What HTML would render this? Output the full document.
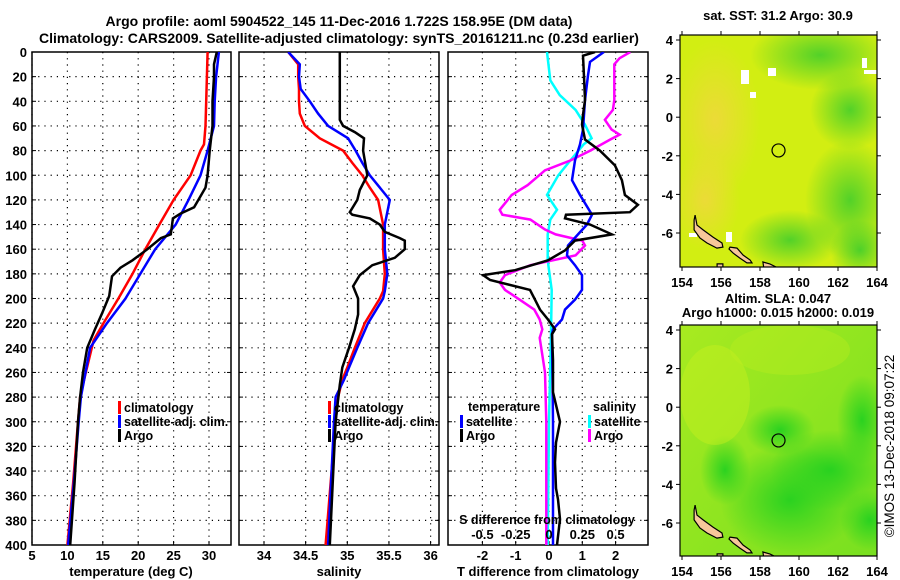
<!DOCTYPE html>
<html><head><meta charset="utf-8">
<style>
html,body{margin:0;padding:0;background:#fff;}
svg{display:block;font-family:"Liberation Sans",Arial,sans-serif;font-weight:bold;}
</style></head>
<body>
<svg id="chart" width="900" height="580" viewBox="0 0 900 580" xmlns="http://www.w3.org/2000/svg">
<defs>
<clipPath id="c1"><rect x="32" y="52" width="199" height="493"/></clipPath>
<clipPath id="c2"><rect x="239" y="52" width="200" height="493"/></clipPath>
<clipPath id="c3"><rect x="448" y="52" width="200" height="493"/></clipPath>
<clipPath id="m1"><rect x="680" y="35" width="197" height="232"/></clipPath>
<clipPath id="m2"><rect x="680" y="325" width="197" height="231"/></clipPath>
<linearGradient id="sstg" x1="0" y1="1" x2="1" y2="0">
<stop offset="0" stop-color="#e8e830"/><stop offset="0.45" stop-color="#d4ee10"/><stop offset="0.75" stop-color="#80dc20"/><stop offset="1" stop-color="#30cc30"/></linearGradient>
<radialGradient id="sstb" cx="0.5" cy="0.5" r="0.5"><stop offset="0" stop-color="#28c830" stop-opacity="0.75"/><stop offset="1" stop-color="#28c830" stop-opacity="0"/></radialGradient>
<radialGradient id="ssto" cx="0.5" cy="0.5" r="0.5"><stop offset="0" stop-color="#f2d640" stop-opacity="0.8"/><stop offset="1" stop-color="#f2d640" stop-opacity="0"/></radialGradient>
<linearGradient id="slag" x1="0" y1="0" x2="1" y2="1"><stop offset="0" stop-color="#a8ea20"/><stop offset="1" stop-color="#78e020"/></linearGradient>
<radialGradient id="slab" cx="0.5" cy="0.5" r="0.5"><stop offset="0" stop-color="#20d020" stop-opacity="0.9"/><stop offset="1" stop-color="#20d020" stop-opacity="0"/></radialGradient>
</defs>
<g id="layer"></g>
</svg>
<script>
// ---- data (depth in m) ----
const tArgoDepth=[0,10,20,40,60,80,100,110,117,126,131,135,148,151,160,169,175,182,198,212,225,240,260,280,300,350,400];
const tArgo=[31.1,30.7,30.7,30.5,30.5,30.1,29.8,29.5,28.8,27.9,26.0,24.9,24.6,23.2,21.3,19.2,17.5,16.3,15.9,14.9,13.9,12.8,12.2,11.8,11.5,11.0,10.4];
const tClimDepth=[0,20,40,60,75,80,100,120,140,160,180,200,220,234,260,280,300,350,400];
const tClim=[29.8,29.7,29.6,29.5,29.3,28.8,27.4,25.0,23.0,21.0,19.2,17.2,15.1,13.7,12.6,11.8,11.5,10.8,10.0];
const tSatDepth=[0,20,40,60,80,100,120,140,160,180,200,220,240,280,300,350,400];
const tSat=[31.4,31.0,30.8,30.7,29.8,28.8,27.1,25.3,22.4,20.3,18.2,15.6,13.2,11.9,11.6,10.9,10.1];
const sClimDepth=[0,10,20,30,40,50,60,70,80,90,100,110,120,140,160,180,194,200,220,240,256,266,280,300,400];
const sClim=[34.29,34.41,34.41,34.42,34.42,34.43,34.49,34.67,34.95,35.06,35.18,35.27,35.37,35.43,35.43,35.45,35.43,35.39,35.21,35.09,35.00,34.94,34.89,34.86,34.74];
const sSat=[34.29,34.43,34.42,34.44,34.55,34.65,34.77,35.01,35.10,35.18,35.27,35.39,35.51,35.45,35.45,35.48,35.45,35.43,35.25,35.12,35.02,34.96,34.86,34.84,34.77];
const sArgoDepth=[0,55,60,65,70,80,100,112,120,130,132,135,140,146,151,153,160,167,173,181,190,200,213,225,240,256,270,300,400];
const sArgo=[34.91,34.91,34.95,35.09,35.20,35.19,35.24,35.15,35.12,35.03,35.06,35.27,35.39,35.45,35.63,35.69,35.69,35.57,35.30,35.15,35.07,35.13,35.13,35.09,35.02,34.94,34.91,34.86,34.79];
const dTArgoDepth=[0,3,20,39,51,59,71,80,92,104,116,124,130,132,135,140,148,153,161,169,177,181,185,193,201,209,217,225,229,250,276,300,317,333,354,363,379,400];
const dTArgo=[1.38,1.02,1.05,1.08,1.02,0.99,1.08,1.53,1.98,2.19,2.28,2.67,2.43,0.51,0.48,1.23,1.89,0.78,0.48,-0.03,-1.02,-1.98,-1.77,-0.57,-0.42,-0.27,-0.03,0.18,0.09,0.12,0.12,0.33,0.21,0.18,0.21,0.27,0.33,0.24];
const dTSatDepth=[0,8,19,39,63,75,88,104,116,132,140,148,157,165,173,181,193,201,209,217,225,229,300,400];
const dTSat=[1.65,1.23,1.17,1.08,1.02,0.93,0.78,0.69,0.93,1.29,1.14,0.87,0.57,0.54,0.78,0.99,0.99,0.78,0.48,0.39,0.12,0.09,0.12,0.12];
const dSSatDepth=[0,23,35,47,59,70,75,88,100,116,128,136,148,169,193,229,300,400];
const dSSat=[-0.015,0.01,0.08,0.2,0.27,0.32,0.26,0.16,0.07,-0.015,0.06,0.01,-0.01,-0.01,0.02,0.015,0,-0.01];
const dSArgoDepth=[0,5,10,39,47,55,63,67,71,80,88,96,108,116,128,132,136,144,148,153,157,165,173,181,187,193,201,209,217,225,232,260,300,400];
const dSArgo=[0.61,0.53,0.49,0.49,0.48,0.42,0.47,0.53,0.46,0.31,0.16,-0.03,-0.16,-0.28,-0.37,-0.35,-0.14,-0.03,0.05,0.25,0.27,0.2,-0.14,-0.33,-0.37,-0.33,-0.22,-0.11,-0.07,-0.05,-0.07,-0.03,-0.02,-0.02];
const depthTicks=[0,20,40,60,80,100,120,140,160,180,200,220,240,260,280,300,320,340,360,380,400];
const tTicks=[5,10,15,20,25,30];
const sTicks=[34,34.5,35,35.5,36];
const dTTicks=[-2,-1,0,1,2];
const dSTicks=[-0.5,-0.25,0,0.25,0.5];
const lonTicks=[154,156,158,160,162,164];
const latTicks=[4,2,0,-2,-4,-6];
const argoLon=158.95, argoLat=-1.722;

// ---- axes ----
const Y=d=>52+d*1.2325;
const XT=v=>32+(v-5)*7.08;
const XS=v=>264+(v-34)*83.3;
const XdT=v=>549+v*33.3;
const XdS=v=>549+v*133.2;
const MX=lon=>682+(lon-154)*19.5;
const MY1=lat=>40+(4-lat)*19.3;
const MY2=lat=>330+(4-lat)*19.3;

const NS='http://www.w3.org/2000/svg';
const L=document.getElementById('layer');
function mk(tag,attrs,parent){const e=document.createElementNS(NS,tag);for(const k in attrs)e.setAttribute(k,attrs[k]);(parent||L).appendChild(e);return e;}
function txt(x,y,s,anchor,size,parent){const e=mk('text',{x:x,y:y,'text-anchor':anchor||'start','font-size':size||13},parent);e.textContent=s;return e;}

function panel(name,x0,x1,xticks,X,tickLabel){
  const g=mk('g',{});
  
  
  depthTicks.forEach(d=>{
    if(d>0&&d<400){const l=mk('line',{x1:x0,x2:x1,y1:Y(d),y2:Y(d),stroke:'#000','stroke-width':1.2,'stroke-dasharray':'1.2,5'},g);
    
    }
    mk('line',{x1:x0,x2:x0+4,y1:Y(d),y2:Y(d),stroke:'#000'},g);
    mk('line',{x1:x1-4,x2:x1,y1:Y(d),y2:Y(d),stroke:'#000'},g);
  });
  xticks.forEach(v=>{
    const x=X(v);
    const l=mk('line',{x1:x,x2:x,y1:52,y2:545,stroke:'#000','stroke-width':1.2,'stroke-dasharray':'1.2,5'},g);
    
    
    mk('line',{x1:x,x2:x,y1:545,y2:541,stroke:'#000'},g);
    if(tickLabel){const t=txt(x,560,String(v),'middle',13,g);
    
    }
  });
  const r=mk('rect',{x:x0,y:52,width:x1-x0,height:493,fill:'none',stroke:'#000','stroke-width':1.5},g);
  
  
  return g;
}
function series(name,depths,vals,X,color,clip,w){
  const pts=depths.map((d,i)=>X(vals[i]).toFixed(1)+','+Y(d).toFixed(1)).join(' ');
  const p=mk('polyline',{points:pts,fill:'none',stroke:color,'stroke-width':w||2.5,'stroke-linejoin':'miter','clip-path':'url(#'+clip+')'});
  
  
}
function legendRow(x,y,color,label,name){
  const m=mk('rect',{x:x,y:y-11,width:3,height:13,fill:color});
  
  
  const t=txt(x+6,y,label,'start',12.5);
  
  
}

// titles
let t=txt(339,26,'Argo profile: aoml 5904522_145 11-Dec-2016 1.722S 158.95E (DM data)','middle',14);


t=txt(339,43,'Climatology: CARS2009. Satellite-adjusted climatology: synTS_20161211.nc (0.23d earlier)','middle',14);



// y labels
depthTicks.forEach(d=>{const e=txt(27,Y(d)+5,String(d),'end',13);

});

// panel 1 temperature
panel('temperature-panel',32,231,tTicks,XT,true);
series('temperature-climatology-line',tClimDepth,tClim,XT,'#ff0000','c1');
series('temperature-satellite-line',tSatDepth,tSat,XT,'#0000ff','c1');
series('temperature-argo-line',tArgoDepth,tArgo,XT,'#000','c1');
t=txt(131,576,'temperature (deg C)','middle',13);


legendRow(118,412,'#ff0000','climatology','legend-climatology');
legendRow(118,426,'#0000ff','satellite-adj. clim.','legend-satellite');
legendRow(118,440,'#000','Argo','legend-argo');

// panel 2 salinity
panel('salinity-panel',239,439,sTicks,XS,true);
series('salinity-climatology-line',sClimDepth,sClim,XS,'#ff0000','c2');
series('salinity-satellite-line',sClimDepth,sSat,XS,'#0000ff','c2');
series('salinity-argo-line',sArgoDepth,sArgo,XS,'#000','c2');
t=txt(339,576,'salinity','middle',13);


legendRow(328,412,'#ff0000','climatology','legend2-climatology');
legendRow(328,426,'#0000ff','satellite-adj. clim.','legend2-satellite');
legendRow(328,440,'#000','Argo','legend2-argo');

// panel 3 differences
panel('difference-panel',448,648,dTTicks,XdT,true);
series('salinity-satellite-diff-line',dSSatDepth,dSSat,XdS,'#00ffff','c3');
series('salinity-argo-diff-line',dSArgoDepth,dSArgo,XdS,'#ff00ff','c3');
series('temperature-satellite-diff-line',dTSatDepth,dTSat,XdT,'#0000ff','c3');
series('temperature-argo-diff-line',dTArgoDepth,dTArgo,XdT,'#000','c3');
dSTicks.forEach(v=>{const e=txt(XdS(v),539,String(v),'middle',13);

});
t=txt(547,524,'S difference from climatology','middle',12.5);


t=txt(548,576,'T difference from climatology','middle',13);


t=txt(468,411,'temperature','start',12.5);


legendRow(460,426,'#0000ff','satellite','legend3-t-satellite');
legendRow(460,440,'#000','Argo','legend3-t-argo');
t=txt(593,411,'salinity','start',12.5);


legendRow(588,426,'#00ffff','satellite','legend3-s-satellite');
legendRow(588,440,'#ff00ff','Argo','legend3-s-argo');

// maps
function islands(g,MYf,clip){
  const polys=[
    [[154.67,-5.07],[154.77,-5.59],[155.08,-5.84],[155.59,-6.21],[156.05,-6.52],[156.1,-6.73],[155.79,-6.78],[155.28,-6.52],[154.92,-6.26],[154.62,-5.84],[154.62,-5.33]],
    [[156.46,-6.73],[156.82,-6.78],[157.13,-7.14],[157.49,-7.40],[157.59,-7.55],[157.33,-7.55],[156.97,-7.30],[156.62,-7.04],[156.41,-6.83]],
    [[158.15,-7.5],[158.5,-7.6],[159.0,-7.85],[158.2,-7.85]],
    [[155.8,-7.6],[156.1,-7.6],[156.1,-7.85],[155.8,-7.85]]
  ];
  polys.forEach(p=>{const pl=mk('polygon',{points:p.map(q=>MX(q[0]).toFixed(1)+','+MYf(q[1]).toFixed(1)).join(' '),fill:'#f7c79a',stroke:'#000','stroke-width':1.2,'clip-path':'url(#'+clip+')'},g);
  
  });
}
function mapAxes(g,MYf,y0,y1){
  lonTicks.forEach(v=>{mk('line',{x1:MX(v),x2:MX(v),y1:y1,y2:y1+4,stroke:'#000'},g);mk('line',{x1:MX(v),x2:MX(v),y1:y0,y2:y0-4,stroke:'#000'},g);
    const e=txt(MX(v),y1+20,String(v),'middle',13,g);
    
    });
  latTicks.forEach(v=>{mk('line',{x1:676,x2:680,y1:MYf(v),y2:MYf(v),stroke:'#000'},g);mk('line',{x1:877,x2:881,y1:MYf(v),y2:MYf(v),stroke:'#000'},g);
    const e=txt(673,MYf(v)+5,String(v),'end',13,g);
    
    });
  mk('rect',{x:680,y:y0,width:197,height:y1-y0,fill:'none',stroke:'#000','stroke-width':1.2},g);
}
// SST map
let g1=mk('g',{'clip-path':'url(#m1)'});


mk('rect',{x:680,y:35,width:197,height:232,fill:'#d2ee12'},g1);
[[715,120,45,80],[705,200,35,50]].forEach(r=>mk('ellipse',{cx:r[0],cy:r[1],rx:r[2],ry:r[3],fill:'url(#ssto)'},g1));
[[820,55,70,35],[850,110,40,40],[850,200,45,60],[790,240,50,30],[860,250,30,30]].forEach(r=>mk('ellipse',{cx:r[0],cy:r[1],rx:r[2],ry:r[3],fill:'url(#sstb)'},g1));
[[741,70,8,14],[750,92,6,6],[768,68,8,8],[862,58,5,10],[864,70,13,4],[726,232,6,10],[689,233,8,4]].forEach(r=>{const e=mk('rect',{x:r[0],y:r[1],width:r[2],height:r[3],fill:'#fff'},g1);

});
islands(g1,MY1,'m1');
let c=mk('circle',{cx:MX(argoLon),cy:MY1(argoLat),r:6.5,fill:'none',stroke:'#000','stroke-width':1.2},g1);


let ga=mk('g',{});
mapAxes(ga,MY1,35,267);
t=txt(778,20,'sat. SST: 31.2 Argo: 30.9','middle',13);


// SLA map
let g2=mk('g',{'clip-path':'url(#m2)'});


mk('rect',{x:680,y:325,width:197,height:231,fill:'url(#slag)'},g2);
[[790,500,70,55],[830,470,60,40],[862,420,25,45],[725,470,25,35],[780,430,35,25],[870,520,30,30]].forEach(r=>{mk('ellipse',{cx:r[0],cy:r[1],rx:r[2],ry:r[3],fill:'url(#slab)'},g2);});
mk('ellipse',{cx:715,cy:395,rx:35,ry:50,fill:'#c8f020',opacity:0.45},g2);
mk('ellipse',{cx:790,cy:350,rx:60,ry:25,fill:'#c0ee20',opacity:0.35},g2);
islands(g2,MY2,'m2');
c=mk('circle',{cx:MX(argoLon),cy:MY2(argoLat),r:6.5,fill:'none',stroke:'#000','stroke-width':1.2},g2);


let gb=mk('g',{});
mapAxes(gb,MY2,325,556);
t=txt(778,303,'Altim. SLA: 0.047','middle',13);


t=txt(778,317,'Argo h1000: 0.015 h2000: 0.019','middle',13);


t=mk('text',{x:0,y:0,'text-anchor':'middle','font-size':13.5,'font-weight':'normal',transform:'translate(894,446) rotate(-90)'});
t.textContent='©IMOS 13-Dec-2018 09:07:22';


</script>
</body></html>
